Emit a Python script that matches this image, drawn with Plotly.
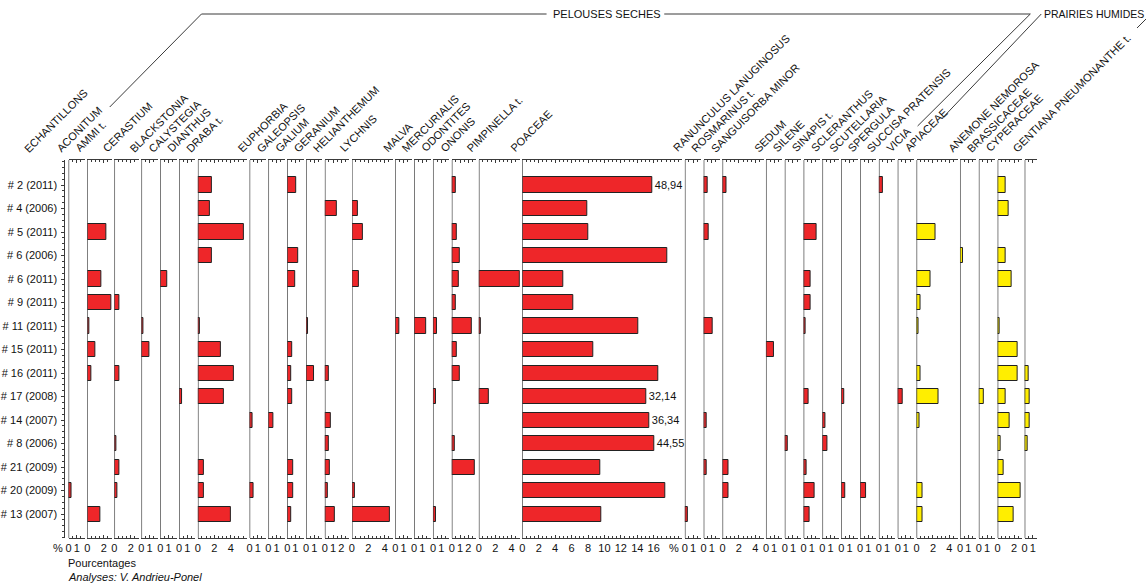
import plotly.graph_objects as go

W, H = 1146, 587
N = None

samples = ["# 2 (2011)", "# 4 (2006)", "# 5 (2011)", "# 6 (2006)", "# 6 (2011)",
           "# 9 (2011)", "# 11 (2011)", "# 15 (2011)", "# 16 (2011)", "# 17 (2008)",
           "# 14 (2007)", "# 8 (2006)", "# 21 (2009)", "# 20 (2009)", "# 13 (2007)"]

# Pollen percentages per taxon, in the order of `samples`
ACONITUM = [N, N, N, N, N, N, N, N, N, N, N, N, N, 0.4, N]
AMMI = [N, N, 2.3, N, 1.75, 2.9, 0.3, 1.0, 0.5, N, N, N, N, N, 1.6]
CERASTIUM = [N, N, N, N, N, 0.55, N, N, 0.55, N, N, 0.3, 0.65, 0.4, N]
BLACKSTONIA = [N, N, N, N, N, N, 0.3, 1.0, N, N, N, N, N, N, N]
CALYSTEGIA = [N, N, N, N, 0.9, N, N, N, N, N, N, N, N, N, N]
DIANTHUS = [N, N, N, N, N, N, N, N, N, 0.4, N, N, N, N, N]
DRABA = [1.65, 1.4, 5.55, 1.7, N, N, 0.3, 2.8, 4.35, 3.15, N, N, 0.75, 0.75, 4.05]
EUPHORBIA = [N, N, N, N, N, N, N, N, N, N, 0.37, N, N, 0.45, N]
GALEOPSIS = [N, N, N, N, N, N, N, N, N, N, 0.57, N, N, N, N]
GALIUM = [1.1, N, N, 1.35, 0.95, N, N, 0.65, 0.5, 0.57, N, N, 0.75, 0.75, 0.45]
GERANIUM = [N, N, N, N, N, N, 0.3, N, 0.95, N, N, N, N, N, N]
HELIANTHEMUM = [N, 1.4, N, N, N, N, N, N, 0.45, N, 0.75, 0.5, 0.65, 0.33, 1.2]
LYCHNIS = [N, 0.7, 1.3, N, 0.9, N, N, N, N, N, N, N, N, 0.4, 4.6]
MALVA = [N, N, N, N, N, N, 0.5, N, N, N, N, N, N, N, N]
MERCURIALIS = [N, N, N, N, N, N, 1.4, N, N, N, N, N, N, N, N]
ODONTITES = [N, N, N, N, N, N, 0.45, N, N, 0.37, N, N, N, N, 0.4]
ONONIS = [0.53, N, 0.65, 1.0, 0.9, 0.45, 2.4, 0.65, 1.0, N, N, 0.33, 2.75, N, N]
PIMPINELLA = [N, N, N, N, 4.95, N, 0.3, N, N, 1.27, N, N, N, N, N]
POACEAE = [15.8, 7.96, 8.05, 17.6, 5.04, 6.22, 14.15, 8.66, 16.6, 15.1, 15.5, 16.1, 9.5, 17.4, 9.63]
POACEAE_LABELS = ["48,94", "", "", "", "", "", "", "", "", "32,14", "36,34", "44,55", "", "", ""]
RANUNCULUS = [N, N, N, N, N, N, N, N, N, N, N, N, N, N, 0.4]
ROSMARINUS = [0.53, N, 0.65, N, N, N, 1.1, N, N, N, 0.33, N, 0.4, N, N]
SANGUISORBA = [0.53, N, N, N, N, N, N, N, N, N, N, N, 0.7, 0.7, N]
SEDUM = [N, N, N, N, N, N, N, 1.0, N, N, N, N, N, N, N]
SILENE = [N, N, N, N, N, N, N, N, N, N, N, 0.37, N, N, N]
SINAPIS = [N, N, 1.6, N, 0.86, 0.9, 0.2, N, N, 0.57, N, N, 0.37, 1.3, 0.7]
SCLERANTHUS = [N, N, N, N, N, N, N, N, N, N, 0.33, 0.57, N, N, N]
SCUTELLARIA = [N, N, N, N, N, N, N, N, N, 0.33, N, N, N, 0.45, N]
SPERGULA = [N, N, N, N, N, N, N, N, N, N, N, N, N, 0.7, N]
SUCCISA = [0.53, N, N, N, N, N, N, N, N, N, N, N, N, N, N]
VICIA = [N, N, N, N, N, N, N, N, N, 0.57, N, N, N, N, N]
APIACEAE = [N, N, 2.3, N, 1.7, 0.45, 0.25, N, 0.53, 2.65, 0.37, N, N, 0.73, 0.7]
ANEMONE = [N, N, N, 0.37, N, N, N, N, N, N, N, N, N, N, N]
BRASSICACEAE = [N, N, N, N, N, N, N, N, N, 0.57, N, N, N, N, N]
CYPERACEAE = [1.0, 1.3, N, 1.0, 1.7, N, 0.25, 2.45, 2.4, 1.0, 1.43, 0.33, 0.7, 2.8, 1.9]
GENTIANA = [N, N, N, N, N, N, N, N, 0.53, 0.6, 0.6, 0.37, N, N, N]

taxa_names = ["ACONITUM", "AMMI t.", "CERASTIUM", "BLACKSTONIA", "CALYSTEGIA", "DIANTHUS",
              "DRABA t.", "EUPHORBIA", "GALEOPSIS", "GALIUM", "GERANIUM", "HELIANTHEMUM",
              "LYCHNIS", "MALVA", "MERCURIALIS", "ODONTITES", "ONONIS", "PIMPINELLA t.",
              "POACEAE", "RANUNCULUS LANUGINOSUS", "ROSMARINUS t.", "SANGUISORBA MINOR",
              "SEDUM", "SILENE", "SINAPIS t.", "SCLERANTHUS", "SCUTELLARIA", "SPERGULA",
              "SUCCISA PRATENSIS", "VICIA", "APIACEAE", "ANEMONE NEMOROSA", "BRASSICACEAE",
              "CYPERACEAE", "GENTIANA PNEUMONANTHE t."]
taxa_values = [ACONITUM, AMMI, CERASTIUM, BLACKSTONIA, CALYSTEGIA, DIANTHUS, DRABA,
               EUPHORBIA, GALEOPSIS, GALIUM, GERANIUM, HELIANTHEMUM, LYCHNIS, MALVA,
               MERCURIALIS, ODONTITES, ONONIS, PIMPINELLA, POACEAE, RANUNCULUS, ROSMARINUS,
               SANGUISORBA, SEDUM, SILENE, SINAPIS, SCLERANTHUS, SCUTELLARIA, SPERGULA,
               SUCCISA, VICIA, APIACEAE, ANEMONE, BRASSICACEAE, CYPERACEAE, GENTIANA]
# axis maxima (%) and tick labels of each panel
axis_max = [2, 3, 3, 2, 2, 2, 6, 2, 2, 2, 2, 3, 5, 2, 2, 2, 3, 5, 19.5, 2, 2, 5,
            2, 2, 2, 2, 2, 2, 2, 2, 5, 2, 2, 3, 1.5]
axis_ticks = [[0, 1], [0, 2], [0, 2], [0, 1], [0, 1], [0, 1], [0, 2, 4], [0, 1], [0, 1],
              [0, 1], [0, 1], [0, 1, 2], [0, 2, 4], [0, 1], [0, 1], [0, 1], [0, 1, 2],
              [0, 2, 4], [0, 2, 4, 6, 8, 10, 12, 14, 16], [0, 1], [0, 1], [0, 2, 4],
              [0, 1], [0, 1], [0, 1], [0, 1], [0, 1], [0, 1], [0, 1], [0, 1], [0, 2, 4],
              [0, 1], [0, 1], [0, 2], [0, 1]]
groups = ["PELOUSES SECHES"] * 30 + ["PRAIRIES HUMIDES"] * 5

RED = "#EE2629"
YELLOW = "#FFEE00"
FONT = "Liberation Sans, Arial, sans-serif"
TXT = "#111111"
LINE = "#3a3a3a"


def px(x):
    return x / W


def py(y):
    return 1 - y / H


left0, right0, gap = 65.7, 1036.7, 2.4
unit = (right0 - left0 - gap * (len(axis_max) - 1)) / sum(axis_max)
ydom = [py(538), py(160)]
rows = list(range(len(samples)))

fig = go.Figure()
layout = {}
shapes = []
annotations = []

cur = left0
for i, (name, vals, xmax, ticks, grp) in enumerate(
        zip(taxa_names, taxa_values, axis_max, axis_ticks, groups), start=1):
    w = xmax * unit
    x0, x1 = cur, cur + w
    cur = x1 + gap
    axkey = "xaxis" if i == 1 else f"xaxis{i}"
    xref = "x" if i == 1 else f"x{i}"
    layout[axkey] = dict(
        domain=[px(x0), px(x1)], range=[0, xmax], anchor="y",
        tickmode="array", tickvals=ticks, ticks="inside", ticklen=3,
        tickcolor=LINE, showline=True, linecolor=LINE, linewidth=1,
        mirror="allticks", showgrid=False, zeroline=False,
        tickfont=dict(family=FONT, size=11, color=TXT),
        minor=dict(ticks="inside", ticklen=2, tick0=0, dtick=0.5, tickcolor=LINE),
        fixedrange=True,
    )
    color = YELLOW if grp == "PRAIRIES HUMIDES" else RED
    kw = {}
    if name == "POACEAE":
        kw = dict(text=POACEAE_LABELS, textposition="outside",
                  textfont=dict(family=FONT, size=11, color=TXT))
    fig.add_trace(go.Bar(
        x=vals, y=rows, orientation="h", xaxis=xref, yaxis="y", width=0.64,
        marker=dict(color=color, line=dict(color="#222222", width=1)),
        cliponaxis=False, hoverinfo="x+y", **kw))
    shapes.append(dict(type="line", xref=xref, yref="paper", x0=0, x1=0,
                       y0=ydom[0], y1=ydom[1], line=dict(color=LINE, width=1.3)))
    annotations.append(dict(
        text=name, xref="paper", yref="paper", x=px(x0 - 17), y=py(157),
        xanchor="left", yanchor="bottom", textangle=-45, showarrow=False,
        font=dict(family=FONT, size=11, color=TXT)))

layout["yaxis"] = dict(
    domain=ydom, range=[15.02, -1.064], anchor="free", position=px(61.5),
    tickmode="array", tickvals=rows, ticktext=samples, ticks="outside", ticklen=3,
    tickcolor=LINE, showline=True, linecolor=LINE, linewidth=1, showgrid=False,
    zeroline=False, tickfont=dict(family=FONT, size=11, color=TXT),
    ticklabelstandoff=2,
    minor=dict(ticks="outside", ticklen=2, tickmode="linear", tick0=-1, dtick=0.25,
               tickcolor=LINE),
    fixedrange=True,
)

# column header for the sample labels
annotations.append(dict(text="ECHANTILLONS", xref="paper", yref="paper", x=px(27 - 11),
                        y=py(158), xanchor="left", yanchor="bottom", textangle=-45,
                        showarrow=False, font=dict(family=FONT, size=11, color=TXT)))
# group headers
annotations.append(dict(text="PELOUSES SECHES", xref="paper", yref="paper", x=px(606),
                        y=py(14), xanchor="center", yanchor="middle", showarrow=False,
                        font=dict(family=FONT, size=11, color=TXT)))
annotations.append(dict(text="PRAIRIES HUMIDES", xref="paper", yref="paper", x=px(1043),
                        y=py(14), xanchor="left", yanchor="middle", showarrow=False,
                        borderpad=0,
                        font=dict(family=FONT, size=10.5, color=TXT)))
# bottom texts
for xx, t in [(55, "%"), (673, "%")]:
    annotations.append(dict(text=t, xref="paper", yref="paper", x=px(xx), y=py(548),
                            xanchor="center", yanchor="middle", showarrow=False,
                            font=dict(family=FONT, size=11, color=TXT)))
annotations.append(dict(text="Pourcentages", xref="paper", yref="paper", x=px(63),
                        y=py(563), xanchor="left", yanchor="middle", showarrow=False,
                        font=dict(family=FONT, size=11, color=TXT)))
annotations.append(dict(text="<i>Analyses: V. Andrieu-Ponel</i>", xref="paper",
                        yref="paper", x=px(63), y=py(577), xanchor="left",
                        yanchor="middle", showarrow=False,
                        font=dict(family=FONT, size=11, color=TXT)))

# bracket lines for the ecological groups
bracket = [((107, 107), (199, 14)), ((199, 14), (545, 14)), ((663, 14), (1030, 14)),
           ((1030, 14), (917, 126)), ((1041, 14), (942, 118)), ((1137, 28), (1146, 19))]
for (a, b), (c, d) in bracket:
    shapes.append(dict(type="line", xref="paper", yref="paper", x0=px(a), y0=py(b),
                       x1=px(c), y1=py(d), line=dict(color=LINE, width=1)))

fig.update_layout(
    width=W, height=H, autosize=False, margin=dict(l=0, r=0, t=0, b=0),
    paper_bgcolor="white", plot_bgcolor="white", showlegend=False,
    bargap=0, shapes=shapes, annotations=annotations,
    font=dict(family=FONT, size=11, color=TXT), **layout)

fig.write_html("out.html", config={"displayModeBar": False},
               post_script="document.body.style.margin='0';"
                           "document.body.style.overflow='hidden';")
